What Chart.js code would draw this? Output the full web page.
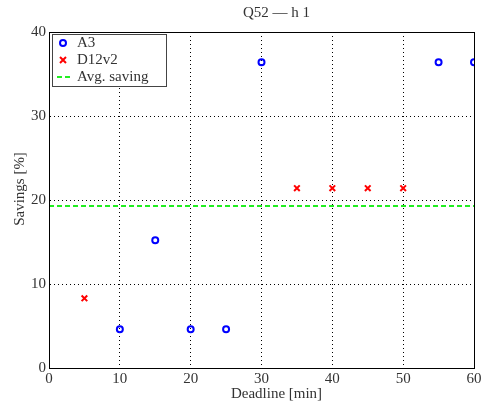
<!DOCTYPE html>
<html>
<head>
<meta charset="utf-8">
<script src="https://cdn.jsdelivr.net/npm/chart.js@4.4.0/dist/chart.umd.min.js"></script>
<style>
  html, body { margin: 0; padding: 0; background: #fff; }
  #wrap { width: 487px; height: 404px; }
</style>
</head>
<body>
<div id="wrap"><canvas id="myChart" width="487" height="404"></canvas></div>
<script>
var a3X = [10, 15, 20, 25, 30, 55, 60];
var a3Y = [4.6, 15.2, 4.6, 4.6, 36.4, 36.4, 36.4];
var d12X = [5, 35, 40, 45, 50];
var d12Y = [8.3, 21.4, 21.4, 21.4, 21.4];
var avgSaving = 19.3;
var xRange = [0, 60];
var titleText = 'Q52 \u2014 h 1';
var xTitle = 'Deadline [min]';
var yTitle = 'Savings [%]';

function pts(xs, ys) {
  var out = [];
  for (var i in xs) out.push({x: xs[i], y: ys[i]});
  return out;
}

var FONT = "'Liberation Serif', 'DejaVu Serif', serif";
var TXT = "#333";

// title, axis titles, box around plot, legend in the top-left corner
var boxPlugin = {
  id: 'boxPlugin',
  afterDraw: function(chart) {
    var c = chart.ctx, a = chart.chartArea;
    var cx = (a.left + a.right) / 2 + 15;
    c.save();
    c.font = '15px ' + FONT;
    c.fillStyle = TXT;
    c.textAlign = 'center';
    c.textBaseline = 'middle';
    c.fillText(titleText, cx, 13);
    c.fillText(xTitle, cx, 394);
    c.save();
    c.translate(20, (a.top + a.bottom) / 2 - 11);
    c.rotate(-Math.PI / 2);
    c.fillText(yTitle, 0, 0);
    c.restore();

    c.strokeStyle = '#000';
    c.lineWidth = 1;
    c.strokeRect(Math.round(a.left) + 0.5, Math.round(a.top) + 0.5,
                 Math.round(a.right - a.left), Math.round(a.bottom - a.top));
    // legend
    var lx = a.left + 3, ly = a.top + 2, lw = 114, lh = 52;
    c.fillStyle = '#fff';
    c.fillRect(lx, ly, lw, lh);
    c.strokeStyle = '#444';
    c.strokeRect(lx + 0.5, ly + 0.5, lw, lh);
    c.fillStyle = TXT;
    c.textAlign = 'left';
    var ds = chart.data.datasets;
    for (var i = 0; i < ds.length; i++) {
      var yy = ly + 9 + i * 17;
      if (i === 0) {
        c.beginPath(); c.strokeStyle = '#0000ff'; c.lineWidth = 2;
        c.arc(lx + 11, yy, 3, 0, Math.PI * 2); c.stroke();
      } else if (i === 1) {
        c.beginPath(); c.strokeStyle = '#ff0000'; c.lineWidth = 2;
        c.moveTo(lx + 8, yy - 3); c.lineTo(lx + 14, yy + 3);
        c.moveTo(lx + 14, yy - 3); c.lineTo(lx + 8, yy + 3); c.stroke();
      } else {
        c.beginPath(); c.strokeStyle = '#22ee22'; c.lineWidth = 2;
        c.setLineDash([5, 3]);
        c.moveTo(lx + 5, yy); c.lineTo(lx + 20, yy); c.stroke();
        c.setLineDash([]);
      }
      c.fillText(ds[i].label, lx + 25, yy);
    }
    c.restore();
  }
};

var chartdata = {
  datasets: [{
    label: 'A3',
    data: pts(a3X, a3Y),
    pointStyle: 'circle',
    pointRadius: 3,
    pointBorderWidth: 2,
    borderColor: '#0000ff',
    backgroundColor: 'rgba(0,0,0,0)',
    showLine: false
  }, {
    label: 'D12v2',
    data: pts(d12X, d12Y),
    pointStyle: 'crossRot',
    pointRadius: 4,
    pointBorderWidth: 2,
    borderColor: '#ff0000',
    backgroundColor: '#ff0000',
    showLine: false
  }, {
    label: 'Avg. saving',
    data: [{x: xRange[0], y: avgSaving}, {x: xRange[1], y: avgSaving}],
    showLine: true,
    pointRadius: 0,
    borderColor: '#22ee22',
    borderWidth: 2,
    borderDash: [5, 3]
  }]
};

new Chart(document.getElementById('myChart'), {
  type: 'scatter',
  data: chartdata,
  plugins: [boxPlugin],
  options: {
    responsive: false,
    animation: false,
    layout: { padding: { left: 0, right: 13, top: 32, bottom: 0 } },
    plugins: {
      legend: { display: false },
      tooltip: { enabled: false },
      title: { display: false }
    },
    scales: {
      x: {
        min: 0, max: 60,
        ticks: { stepSize: 10, color: TXT, font: { family: FONT, size: 15 }, padding: 2 },
        grid: { color: '#000', lineWidth: 1, drawTicks: false },
        border: { display: true, color: '#000', dash: [1, 3] },
        afterFit: function(s) { s.height = 36; }
      },
      y: {
        min: 0, max: 40,
        ticks: { stepSize: 10, color: TXT, font: { family: FONT, size: 15 }, padding: 3 },
        grid: { color: '#000', lineWidth: 1, drawTicks: false },
        border: { display: true, color: '#000', dash: [1, 3] },
        afterFit: function(s) { s.width = 49; }
      }
    }
  }
});
</script>
</body>
</html>
